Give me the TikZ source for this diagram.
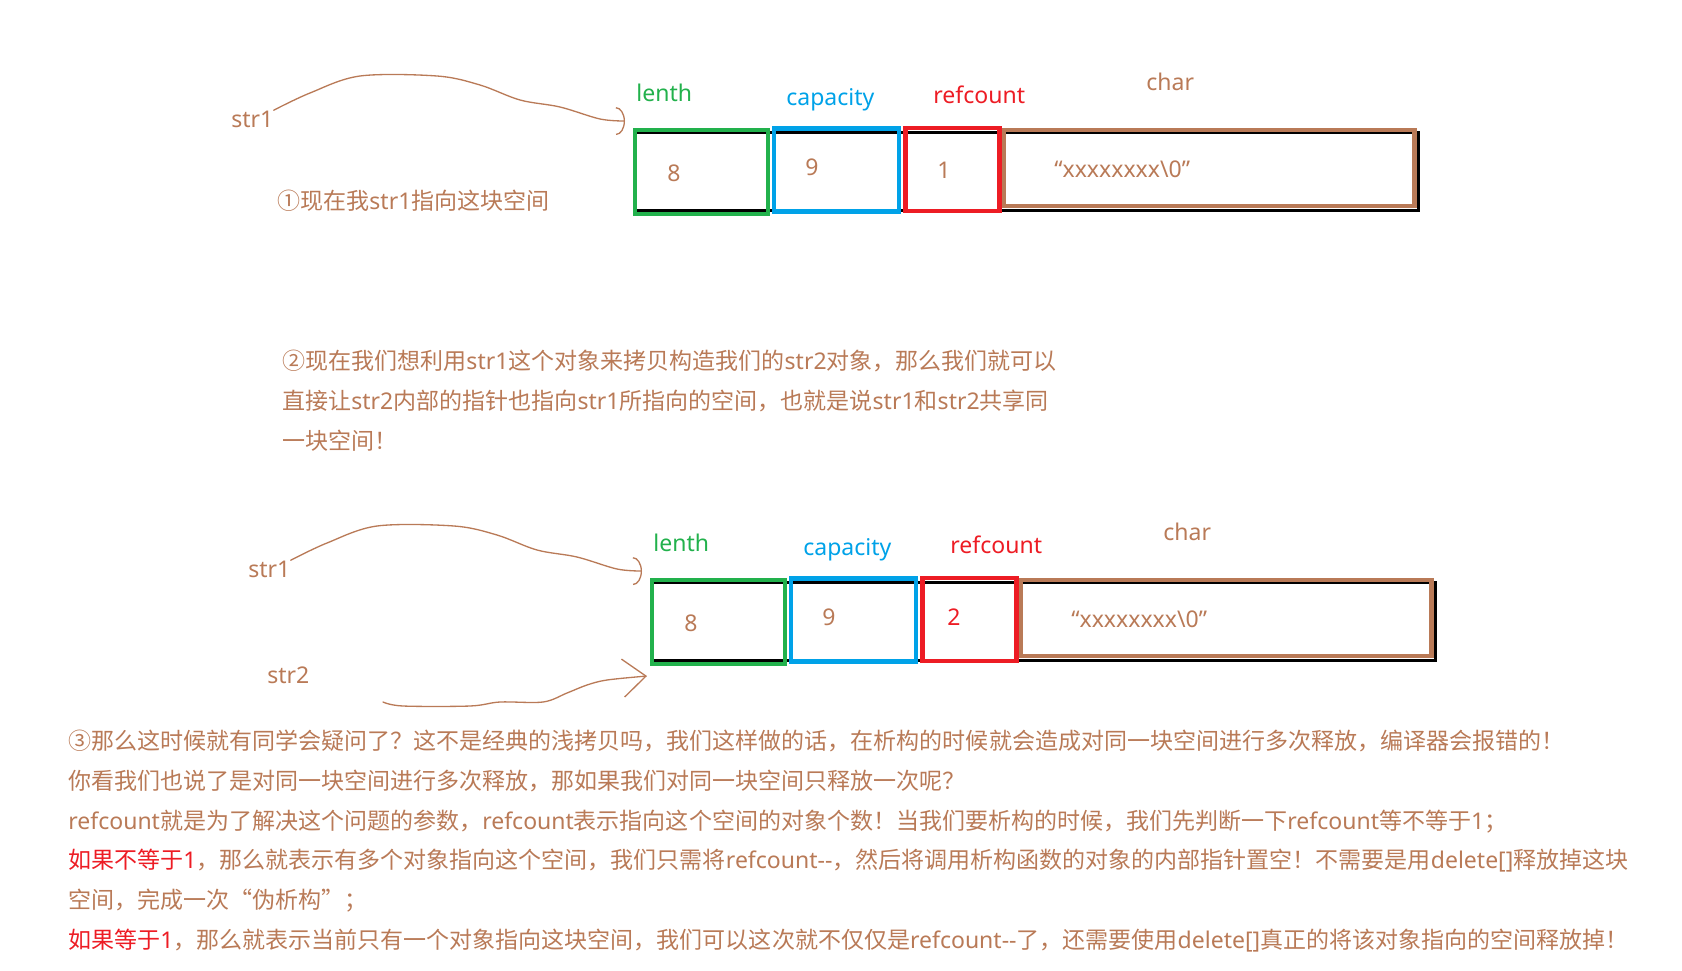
\documentclass[tikz,border=0pt]{standalone}
\usepackage{fontspec}
\usepackage{tikz}
\usetikzlibrary{arrows.meta,positioning,backgrounds}
\usepackage{xcolor}
\setmainfont{Noto Sans}
\newfontfamily\latinfont{Noto Sans}
\newfontfamily\cjkfont{Noto Sans CJK SC}
% switch to the CJK face for Chinese characters
\XeTeXinterchartokenstate=1
\newXeTeXintercharclass\CJKcls
\newcount\cjkc
\def\cjkrange#1#2{\cjkc=#1 \loop \XeTeXcharclass\cjkc=\CJKcls \ifnum\cjkc<#2 \advance\cjkc by 1 \repeat}
\cjkrange{"4E00}{"9FFF}
\cjkrange{"3000}{"303F}
\cjkrange{"FF00}{"FFEF}
\cjkrange{"2460}{"24FF}
\XeTeXinterchartoks 0 \CJKcls = {\cjkfont}
\XeTeXinterchartoks 4095 \CJKcls = {\cjkfont}
\XeTeXinterchartoks \CJKcls 0 = {\latinfont}
\definecolor{pgreen}{RGB}{34,177,76}
\definecolor{pblue}{RGB}{0,162,232}
\definecolor{pred}{RGB}{237,28,36}
\definecolor{pbrown}{RGB}{185,122,87}
\newcommand\fsz{\fontsize{13.1}{22.7}\selectfont}
\tikzset{
  cell/.style={draw,line width=2.4pt,inner sep=0pt},
  backline/.style={draw=black,line width=1.7pt},
  lbl/.style={inner sep=0pt,anchor=base west,font=\fsz},
  val/.style={inner sep=0pt,anchor=base,font=\fsz,text=pbrown},
  para/.style={inner sep=0pt,anchor=base west,font=\fsz,text=pbrown},
  pen/.style={draw=pbrown,line width=0.75pt,line cap=round,line join=round},
}
\begin{document}
\begin{tikzpicture}[x=0.02cm,y=-0.02cm]
  \useasboundingbox (0,0) rectangle (1682,970);
  % first object
  \node[lbl,text=pbrown] (s1) at (231,127) {str1};
  \node[lbl,text=pbrown] (n1) at (277,209) {①现在我str1指向这块空间};
  \node[cell,draw=pgreen,minimum width=2.66cm,minimum height=1.68cm] (len1) at (701.5,172) {};
  \node[cell,draw=pblue,minimum width=2.5cm,minimum height=1.66cm,right=0.04cm of len1,yshift=0.04cm] (cap1) {};
  \node[cell,draw=pred,minimum width=1.88cm,minimum height=1.66cm,right=0.04cm of cap1,yshift=0.01cm] (ref1) {};
  \node[cell,draw=pbrown,minimum width=8.22cm,minimum height=1.52cm,right=0pt of ref1,yshift=0.03cm] (chr1) {};
  \node[lbl,text=pgreen] (hl1) at (636,101) {lenth};
  \node[lbl,text=pblue] (hc1) at (786,105) {capacity};
  \node[lbl,text=pred] (hr1) at (933,103) {refcount};
  \node[lbl,text=pbrown] (hs1) at (1146,90) {char};
  \node[val] (v11) at (674,181) {8};
  \node[val] (v12) at (812,175) {9};
  \node[val] (v13) at (944,178) {1};
  \node[val,anchor=base west] (v14) at (1054,177) {“xxxxxxxx\textbackslash 0”};
  \begin{scope}[on background layer]
    \draw[backline] ([shift={(2,5)}]len1.north west) rectangle ([shift={(2,2)}]chr1.south east);
  \end{scope}
  \coordinate (t1) at (625,121);
  \draw[pen,-{Arc Barb[width=5.6mm,length=1.8mm]}] plot[smooth,tension=0.55] coordinates
    {(s1.north east) (310,93) (360,76) (437,76) (480,85) (520,100) (560,107) (600,119) (t1)};

  % explanation
  \node[para] (m1) at (282,369) {②现在我们想利用str1这个对象来拷贝构造我们的str2对象，那么我们就可以};
  \node[para] (m2) at (282,409) {直接让str2内部的指针也指向str1所指向的空间，也就是说str1和str2共享同};
  \node[para] (m3) at (282,449) {一块空间！};

  % shared object
  \node[lbl,text=pbrown] (s2a) at (248,577) {str1};
  \node[lbl,text=pbrown] (s2b) at (267,683) {str2};
  \node[cell,draw=pgreen,minimum width=2.66cm,minimum height=1.68cm] (len2) at (718.5,622) {};
  \node[cell,draw=pblue,minimum width=2.5cm,minimum height=1.66cm,right=0.04cm of len2,yshift=0.04cm] (cap2) {};
  \node[cell,draw=pred,minimum width=1.88cm,minimum height=1.66cm,right=0.04cm of cap2,yshift=0.01cm] (ref2) {};
  \node[cell,draw=pbrown,minimum width=8.22cm,minimum height=1.52cm,right=0pt of ref2,yshift=0.03cm] (chr2) {};
  \node[lbl,text=pgreen] (hl2) at (653,551) {lenth};
  \node[lbl,text=pblue] (hc2) at (803,555) {capacity};
  \node[lbl,text=pred] (hr2) at (950,553) {refcount};
  \node[lbl,text=pbrown] (hs2) at (1163,540) {char};
  \node[val] (v21) at (691,631) {8};
  \node[val] (v22) at (829,625) {9};
  \node[val,text=pred] (v23) at (954,625) {2};
  \node[val,anchor=base west] (v24) at (1071,627) {“xxxxxxxx\textbackslash 0”};
  \begin{scope}[on background layer]
    \draw[backline] ([shift={(2,5)}]len2.north west) rectangle ([shift={(2,2)}]chr2.south east);
  \end{scope}
  \coordinate (t2) at (642,571);
  \coordinate (c3) at (383,702);
  \coordinate (t3) at (647,676);
  \draw[pen,-{Arc Barb[width=5.6mm,length=1.8mm]}] plot[smooth,tension=0.55] coordinates
    {(s2a.north east) (327,543) (377,526) (454,526) (497,535) (537,550) (577,557) (617,569) (t2)};
  \draw[pen,-{Straight Barb[width=7.6mm,length=4.6mm]}] plot[smooth,tension=0.55] coordinates
    {(c3) (403,706) (470,706) (500,702) (543,702) (567,693) (587,685) (607,680) (t3)};

  % notes
  \node[para] (b1) at (68,749) {③那么这时候就有同学会疑问了？这不是经典的浅拷贝吗，我们这样做的话，在析构的时候就会造成对同一块空间进行多次释放，编译器会报错的！};
  \node[para] (b2) at (68,789) {你看我们也说了是对同一块空间进行多次释放，那如果我们对同一块空间只释放一次呢？};
  \node[para] (b3) at (68,829) {refcount就是为了解决这个问题的参数，refcount表示指向这个空间的对象个数！当我们要析构的时候，我们先判断一下refcount等不等于1；};
  \node[para] (b4) at (68,868) {{\color{pred}如果不等于1}，那么就表示有多个对象指向这个空间，我们只需将refcount-{}-，然后将调用析构函数的对象的内部指针置空！不需要是用delete[]释放掉这块};
  \node[para] (b5) at (68,908) {空间，完成一次{\cjkfont “}伪析构{\cjkfont ”}；};
  \node[para] (b6) at (68,948) {{\color{pred}如果等于1}，那么就表示当前只有一个对象指向这块空间，我们可以这次就不仅仅是refcount-{}-了，还需要使用delete[]真正的将该对象指向的空间释放掉！};
\end{tikzpicture}
\end{document}
